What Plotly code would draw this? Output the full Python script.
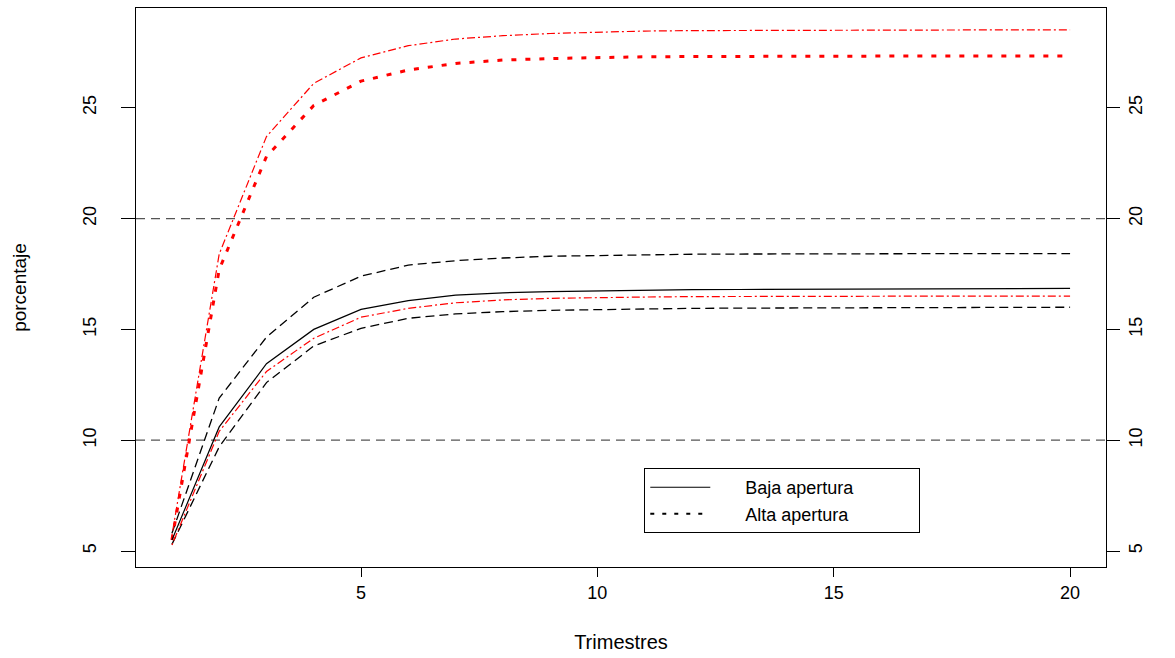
import plotly.graph_objects as go

trimestres = list(range(1, 21))

baja_media = [5.5, 10.6, 13.45, 15.0, 15.9, 16.3, 16.55, 16.65, 16.7, 16.74,
              16.77, 16.79, 16.8, 16.81, 16.82, 16.83, 16.84, 16.84, 16.85, 16.85]
baja_sup = [5.8, 11.9, 14.65, 16.45, 17.4, 17.9, 18.1, 18.22, 18.3, 18.34,
            18.37, 18.39, 18.4, 18.41, 18.41, 18.42, 18.42, 18.42, 18.42, 18.42]
baja_inf = [5.3, 9.7, 12.6, 14.25, 15.05, 15.5, 15.7, 15.8, 15.86, 15.9,
            15.93, 15.95, 15.96, 15.97, 15.98, 15.99, 16.0, 16.0, 16.0, 16.0]
alta_media = [5.5, 17.7, 22.8, 25.1, 26.2, 26.7, 27.0, 27.15, 27.22, 27.27,
              27.3, 27.31, 27.32, 27.33, 27.33, 27.34, 27.34, 27.34, 27.34, 27.34]
alta_sup = [5.7, 18.4, 23.7, 26.1, 27.25, 27.8, 28.1, 28.25, 28.35, 28.42,
            28.46, 28.48, 28.49, 28.5, 28.5, 28.51, 28.51, 28.51, 28.51, 28.51]
alta_inf = [5.27, 10.4, 13.1, 14.6, 15.55, 15.95, 16.2, 16.33, 16.4, 16.44,
            16.46, 16.48, 16.49, 16.5, 16.5, 16.5, 16.5, 16.5, 16.5, 16.5]

lineas_ref = [10, 20]
x_ticks = [5, 10, 15, 20]
y_ticks = [5, 10, 15, 20, 25]
leyenda = ["Baja apertura", "Alta apertura"]

FONT = "Liberation Sans, Arial, sans-serif"
PAD_L = "\u00a0" * 6
PAD_R = "\u00a0" * 12

fig = go.Figure()

# reference horizontal dashed lines
for h in lineas_ref:
    fig.add_shape(type="line", xref="paper", x0=0, x1=1, yref="y", y0=h, y1=h,
                  line=dict(color="#555555", width=1.3, dash="9px,6px"), layer="below")

fig.add_trace(go.Scatter(x=trimestres, y=baja_sup, mode="lines", showlegend=False,
                         line=dict(color="black", width=1.3, dash="9px,5px")))
fig.add_trace(go.Scatter(x=trimestres, y=baja_inf, mode="lines", showlegend=False,
                         line=dict(color="black", width=1.3, dash="9px,5px")))
fig.add_trace(go.Scatter(x=trimestres, y=alta_sup, mode="lines", showlegend=False,
                         line=dict(color="red", width=1.2, dash="2px,3px,8px,3px")))
fig.add_trace(go.Scatter(x=trimestres, y=alta_inf, mode="lines", showlegend=False,
                         line=dict(color="red", width=1.2, dash="2px,3px,8px,3px")))
fig.add_trace(go.Scatter(x=trimestres, y=alta_media, mode="lines", showlegend=False,
                         line=dict(color="red", width=3, dash="5px,9px")))
fig.add_trace(go.Scatter(x=trimestres, y=baja_media, mode="lines",
                         name=PAD_L + leyenda[0] + PAD_R,
                         line=dict(color="black", width=1.2)))
fig.add_trace(go.Scatter(x=[None], y=[None], mode="lines",
                         name=PAD_L + leyenda[1] + PAD_R,
                         yaxis="y2", line=dict(color="black", width=2, dash="4px,8px")))

axis_common = dict(showgrid=False, zeroline=False, ticks="outside", tickcolor="black",
                   automargin=False,
                   tickfont=dict(family=FONT, size=18, color="black"))

fig.update_layout(
    width=1175, height=658,
    margin=dict(l=136, r=69, t=8, b=91),
    paper_bgcolor="white", plot_bgcolor="white",
    font=dict(family=FONT, size=18, color="black"),
    xaxis=dict(range=[0.24, 20.76], tickvals=x_ticks, ticklen=9,
               showline=True, mirror=True, linecolor="black", linewidth=1.3,
               title=dict(text="Trimestres", font=dict(family=FONT, size=20), standoff=33),
               **axis_common),
    yaxis=dict(range=[4.28, 29.5], tickvals=y_ticks, ticklen=14, tickangle=-90,
               showline=True, mirror=True, linecolor="black", linewidth=1.3,
               title=dict(text="porcentaje", font=dict(family=FONT, size=19), standoff=48),
               ticklabelstandoff=18,
               **axis_common),
    yaxis2=dict(range=[4.28, 29.5], tickvals=y_ticks, ticklen=13, tickangle=-90,
                overlaying="y", side="right", showline=False, ticklabelstandoff=0,
                **axis_common),
    legend=dict(x=0.524, y=0.177, xanchor="left", yanchor="top",
                bgcolor="white", bordercolor="black", borderwidth=1,
                font=dict(family=FONT, size=18), itemwidth=60, tracegroupgap=0),
)

fig.write_html(
    "out.html",
    config={"displayModeBar": False},
    post_script="document.body.style.margin='0';document.body.style.overflow='hidden';",
)
